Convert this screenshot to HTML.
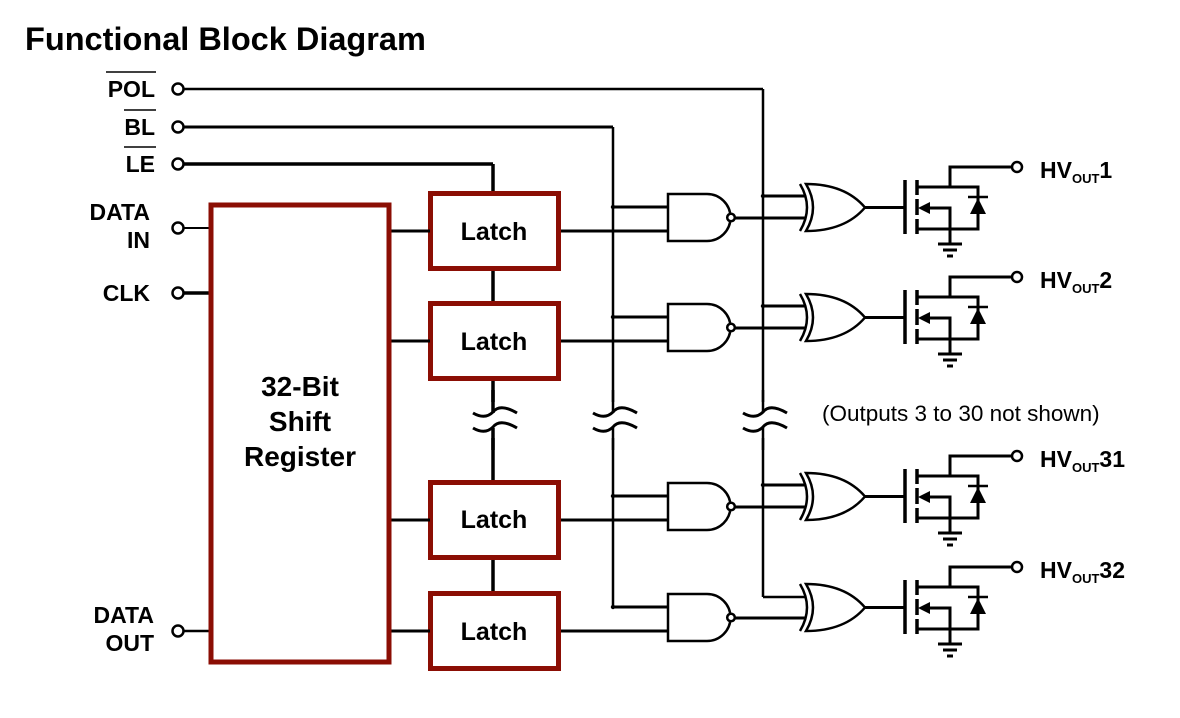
<!DOCTYPE html>
<html><head><meta charset="utf-8"><style>
html,body{margin:0;padding:0;background:#fff}
svg{display:block}
text{font-family:"Liberation Sans",Arial,sans-serif}
</style></head><body>
<svg width="1180" height="718" viewBox="0 0 1180 718" xmlns="http://www.w3.org/2000/svg">
<defs>
<g id="ch" fill="none" stroke="#000" stroke-width="3">
  <path d="M668,194 H707 A23.5,23.5 0 0 1 707,241 H668 Z" stroke-width="2.5"/>
  <circle cx="731" cy="217.5" r="3.8" stroke-width="2.5" fill="#fff"/>
  <line x1="613" y1="207" x2="668" y2="207"/>
  <line x1="735" y1="218" x2="805" y2="218"/>
  <path d="M806,184 Q845,184 865,207.5 Q845,231 806,231 Q820,207.5 806,184 Z" stroke-width="2.5"/>
  <path d="M800,184 Q814,207.5 800,231" stroke-width="2.5"/>
  <line x1="865" y1="207.5" x2="905" y2="207.5"/>
  <line x1="905" y1="180" x2="905" y2="234" stroke-width="3.5"/>
  <line x1="917" y1="180" x2="917" y2="195" stroke-width="3.5"/>
  <line x1="917" y1="199" x2="917" y2="215" stroke-width="3.5"/>
  <line x1="917" y1="219" x2="917" y2="234" stroke-width="3.5"/>
  <polyline points="917,187 978,187 978,229 917,229"/>
  <polyline points="950,187 950,167 1012,167"/>
  <polyline points="926,208 950,208 950,244"/>
  <path d="M918,208 L930,202 L930,214 Z" fill="#000" stroke="none"/>
  <path d="M978,198 L970,214 L986,214 Z" fill="#000" stroke="none"/>
  <line x1="968" y1="197" x2="988" y2="197" stroke-width="2.5"/>
  <line x1="938" y1="244" x2="962" y2="244"/>
  <line x1="943" y1="250" x2="957" y2="250"/>
  <line x1="947" y1="256" x2="953" y2="256"/>
  <circle cx="1017" cy="167" r="5" stroke-width="2.5" fill="#fff"/>
  <rect x="430.5" y="193.5" width="128" height="75" stroke="#8b0e04" stroke-width="5" fill="#fff"/>
  <line x1="390" y1="231" x2="430" y2="231"/>
  <line x1="561" y1="231" x2="668" y2="231"/>
  <circle cx="613" cy="207" r="2.2" fill="#000" stroke="none"/>
</g>
</defs>
<text x="25" y="50" font-size="32.5" font-weight="bold">Functional Block Diagram</text>

<g fill="none" stroke="#000" stroke-width="3">
  <line x1="184" y1="89" x2="763" y2="89" stroke-width="2.5"/>
  <line x1="763" y1="89" x2="763" y2="597" stroke-width="2.5"/>
  <line x1="763" y1="597" x2="805" y2="597" stroke-width="2.5"/>
  <line x1="184" y1="127" x2="613" y2="127"/>
  <line x1="613" y1="127" x2="613" y2="607" stroke-width="2.5"/>
  <line x1="613" y1="607" x2="668" y2="607"/>
  <line x1="184" y1="164" x2="493" y2="164" stroke-width="3.5"/>
  <line x1="493" y1="164" x2="493" y2="593" stroke-width="3.5"/>
  <line x1="184" y1="228" x2="210" y2="228" stroke-width="2"/>
  <line x1="184" y1="293" x2="210" y2="293" stroke-width="3.5"/>
  <line x1="184" y1="631" x2="210" y2="631" stroke-width="2.5"/>
  <line x1="763" y1="196" x2="805" y2="196"/>
  <line x1="763" y1="306" x2="805" y2="306"/>
  <line x1="763" y1="485" x2="805" y2="485"/>
</g>
<g fill="#000">
  <circle cx="763" cy="196" r="2.2"/><circle cx="763" cy="306" r="2.2"/><circle cx="763" cy="485" r="2.2"/>
</g>
<g fill="none">
  <rect x="470" y="402" width="320" height="36" fill="#fff"/>
  <g stroke="#000" stroke-width="3">
    <path d="M473,413 Q485,420 493,412 Q500,403 517,413"/>
    <path d="M473,428 Q485,435 493,427 Q500,418 517,428"/>
    <path d="M593,413 Q605,420 613,412 Q620,403 637,413"/>
    <path d="M593,428 Q605,435 613,427 Q620,418 637,428"/>
    <path d="M743,413 Q755,420 763,412 Q770,403 787,413"/>
    <path d="M743,428 Q755,435 763,427 Q770,418 787,428"/>
    <line x1="493" y1="390" x2="493" y2="413" stroke-width="3.5"/>
    <line x1="493" y1="428" x2="493" y2="450" stroke-width="3.5"/>
    <line x1="613" y1="390" x2="613" y2="413" stroke-width="2.5"/>
    <line x1="613" y1="428" x2="613" y2="450" stroke-width="2.5"/>
    <line x1="763" y1="390" x2="763" y2="413" stroke-width="2.5"/>
    <line x1="763" y1="428" x2="763" y2="450" stroke-width="2.5"/>
  </g>
</g>

<use href="#ch"/>
<use href="#ch" transform="translate(0,110)"/>
<use href="#ch" transform="translate(0,289)"/>
<use href="#ch" transform="translate(0,400)"/>

<rect x="211" y="205" width="178" height="457" fill="none" stroke="#8b0e04" stroke-width="5"/>

<g fill="none" stroke="#000" stroke-width="2.5">
  <circle cx="178" cy="89" r="5.5"/><circle cx="178" cy="127" r="5.5"/><circle cx="178" cy="164" r="5.5"/>
  <circle cx="178" cy="228" r="5.5"/><circle cx="178" cy="293" r="5.5"/><circle cx="178" cy="631" r="5.5"/>
</g>

<g font-size="23" font-weight="bold" text-anchor="end">
  <text x="155" y="97">POL</text>
  <text x="155" y="135">BL</text>
  <text x="155" y="172">LE</text>
  <text x="150" y="220">DATA</text>
  <text x="150" y="248">IN</text>
  <text x="150" y="301">CLK</text>
  <text x="154" y="623">DATA</text>
  <text x="154" y="651">OUT</text>
</g>
<g stroke="#000" stroke-width="1.5">
  <line x1="106" y1="72" x2="156" y2="72"/>
  <line x1="124" y1="110" x2="156" y2="110"/>
  <line x1="124" y1="147" x2="156" y2="147"/>
</g>

<g font-size="25" font-weight="bold" text-anchor="middle">
  <text x="494" y="240">Latch</text>
  <text x="494" y="350">Latch</text>
  <text x="494" y="528">Latch</text>
  <text x="494" y="640">Latch</text>
  <text x="300" y="396" font-size="28">32-Bit</text>
  <text x="300" y="431" font-size="28">Shift</text>
  <text x="300" y="466" font-size="28">Register</text>
</g>

<text x="822" y="421" font-size="22.5">(Outputs 3 to 30 not shown)</text>

<g font-size="23" font-weight="bold">
  <text x="1040" y="178">HV<tspan font-size="13" dy="5">OUT</tspan><tspan dy="-5">1</tspan></text>
  <text x="1040" y="288">HV<tspan font-size="13" dy="5">OUT</tspan><tspan dy="-5">2</tspan></text>
  <text x="1040" y="467">HV<tspan font-size="13" dy="5">OUT</tspan><tspan dy="-5">31</tspan></text>
  <text x="1040" y="578">HV<tspan font-size="13" dy="5">OUT</tspan><tspan dy="-5">32</tspan></text>
</g>
</svg>
</body></html>
